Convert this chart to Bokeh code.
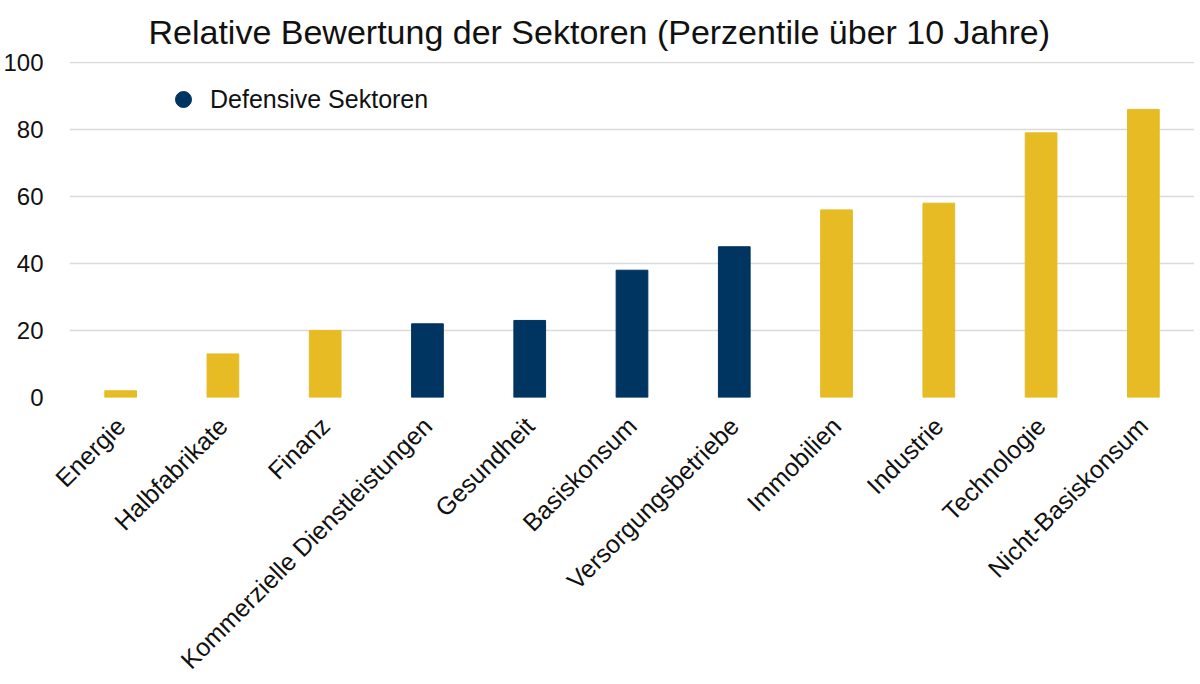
import math
from bokeh.plotting import figure
from bokeh.models import Range1d, FactorRange, ColumnDataSource, Legend, LegendItem, FixedTicker
from bokeh.embed import file_html
from bokeh.resources import INLINE

title_text = "Relative Bewertung der Sektoren (Perzentile über 10 Jahre)"
sectors = ["Energie", "Halbfabrikate", "Finanz", "Kommerzielle Dienstleistungen",
           "Gesundheit", "Basiskonsum", "Versorgungsbetriebe", "Immobilien",
           "Industrie", "Technologie", "Nicht-Basiskonsum"]
values = [2, 13, 20, 22, 23, 38, 45, 56, 58, 79, 86]
defensive = [False, False, False, True, True, True, True, False, False, False, False]
y_ticks = [0, 20, 40, 60, 80, 100]
legend_label = "Defensive Sektoren"

YELLOW = "#E6BB23"
NAVY = "#003461"
FONT = "Liberation Sans"

colors = [NAVY if d else YELLOW for d in defensive]
src = ColumnDataSource(dict(x=sectors, top=values, color=colors))

p = figure(frame_width=1125, frame_height=336, x_range=FactorRange(*sectors), y_range=Range1d(0, 100.3),
           output_backend="svg", toolbar_location=None,
           min_border_left=59, min_border_right=0, min_border_top=60, min_border_bottom=274)
p.outline_line_color = None

p.vbar(x="x", top="top", width=0.31, color="color", source=src)

# legend-only marker (no visible data point)
dummy = p.scatter(x=[sectors[0]], y=[float("nan")], marker="circle", size=16, color=NAVY)
legend = Legend(items=[LegendItem(label=legend_label, renderers=[dummy], index=0)],
                location=(94, 278), margin=0, padding=0, spacing=0,
                glyph_width=40, glyph_height=40, label_standoff=7,
                label_text_font=FONT, label_text_font_size="25px", label_text_color="#111111",
                border_line_alpha=0, background_fill_alpha=0)
p.add_layout(legend)

p.title.text = title_text
p.title.text_font = FONT
p.title.text_font_size = "34px"
p.title.text_font_style = "normal"
p.title.text_color = "#111111"
p.title.align = "left"
p.title.offset = 79
p.title.standoff = 21

p.xgrid.grid_line_color = None
p.ygrid.grid_line_color = "#DADADA"
p.ygrid.grid_line_width = 1.5
p.yaxis.ticker = FixedTicker(ticks=y_ticks)

for ax in (p.xaxis, p.yaxis):
    ax.axis_line_color = None
    ax.major_tick_line_color = None
    ax.minor_tick_line_color = None
    ax.major_label_text_font = FONT
    ax.major_label_text_color = "#111111"

p.yaxis.major_label_text_font_size = "24px"
p.yaxis.major_label_standoff = 20
p.xaxis.major_label_text_font_size = "25px"
p.xaxis.major_label_orientation = math.pi / 4
p.xaxis.major_label_standoff = 18

open("out.html", "w").write(file_html(p, INLINE))
